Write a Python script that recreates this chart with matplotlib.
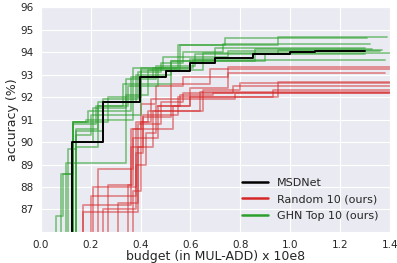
import matplotlib
matplotlib.use("Agg")
import matplotlib.pyplot as plt
import seaborn as sns

sns.set_style("darkgrid")
plt.rcParams['font.family'] = ['DejaVu Sans']

# MSDNet step curve (budget, accuracy)
msd_x = [0.124, 0.124, 0.249, 0.397, 0.50, 0.60, 0.70, 0.85, 1.00, 1.10, 1.30]
msd_y = [80.0, 90.0, 91.8, 92.88, 93.17, 93.5, 93.75, 93.9, 94.0, 94.05, 94.05]

# GHN Top 10 curves
ghn_x = [
    [0.06, 0.06, 0.09, 0.13, 0.22, 0.33, 0.52, 0.56, 0.95, 1.39],
    [0.13, 0.13, 0.19, 0.36, 0.45, 0.55, 0.74, 1.31],
    [0.14, 0.14, 0.25, 0.39, 0.48, 0.57, 0.73, 1.32],
    [0.11, 0.11, 0.14, 0.23, 0.38, 0.52, 0.86, 1.33],
    [0.13, 0.13, 0.21, 0.34, 0.46, 0.62, 0.95, 1.37],
    [0.14, 0.14, 0.20, 0.40, 0.65, 1.40],
    [0.10, 0.10, 0.34, 0.43, 0.56, 0.90, 1.30],
    [0.08, 0.08, 0.13, 0.27, 0.40, 0.60, 0.70, 1.30],
    [0.14, 0.14, 0.23, 0.35, 0.47, 0.61, 1.38],
    [0.13, 0.13, 0.18, 0.37, 0.49, 0.75, 1.36],
]
ghn_y = [
    [80, 86.7, 88.6, 90.8, 91.6, 92.6, 93.6, 94.3, 94.68, 94.68],
    [80, 90.9, 91.4, 92.9, 93.3, 94.3, 94.64, 94.64],
    [80, 90.5, 91.9, 93.1, 93.5, 94.0, 94.38, 94.38],
    [80, 89.7, 90.6, 91.8, 93.0, 93.6, 94.15, 94.15],
    [80, 90.0, 91.5, 92.8, 93.4, 93.9, 94.09, 94.09],
    [80, 90.3, 91.2, 93.2, 93.94, 93.94],
    [80, 89.07, 92.1, 93.2, 93.6, 93.9, 93.9],
    [80, 88.6, 90.9, 92.0, 93.3, 93.7, 94.2, 94.2],
    [80, 89.8, 91.6, 92.5, 93.3, 93.64, 93.64],
    [80, 90.9, 91.0, 93.3, 93.8, 94.05, 94.05],
]

# Random 10 curves
rnd_x = [
    [0.17, 0.17, 0.36, 0.40, 0.46, 0.57, 0.75, 1.40],
    [0.21, 0.21, 0.38, 0.44, 0.52, 0.68, 1.40],
    [0.23, 0.23, 0.37, 0.47, 0.60, 0.75, 1.38],
    [0.25, 0.25, 0.38, 0.41, 0.55, 0.95, 1.40],
    [0.27, 0.27, 0.36, 0.45, 0.65, 0.80, 1.40],
    [0.31, 0.31, 0.39, 0.48, 0.57, 0.77, 1.40],
    [0.35, 0.35, 0.37, 0.53, 0.60, 0.93, 1.40],
    [0.37, 0.37, 0.40, 0.43, 0.64, 1.40],
    [0.17, 0.17, 0.39, 0.41, 0.52, 0.78, 1.40],
    [0.20, 0.20, 0.38, 0.42, 0.46, 0.56, 0.69, 1.40],
]
rnd_y = [
    [80, 87.2, 90.6, 91.7, 92.5, 92.9, 93.35, 93.35],
    [80, 88.0, 90.9, 91.9, 92.6, 93.25, 93.25],
    [80, 88.8, 90.2, 91.6, 92.4, 93.08, 93.08],
    [80, 87.0, 89.5, 91.2, 92.0, 92.68, 92.68],
    [80, 88.1, 89.8, 91.4, 92.3, 92.62, 92.62],
    [80, 87.3, 90.8, 91.8, 92.2, 92.5, 92.5],
    [80, 88.1, 90.6, 91.6, 92.0, 92.32, 92.32],
    [80, 87.8, 90.9, 91.4, 92.24, 92.24],
    [80, 86.9, 89.8, 91.1, 91.9, 92.2, 92.2],
    [80, 87.6, 89.0, 90.4, 91.6, 92.1, 92.16, 92.16],
]

xticks = [0.0, 0.2, 0.4, 0.6, 0.8, 1.0, 1.2, 1.4]
yticks = [87, 88, 89, 90, 91, 92, 93, 94, 95, 96]

fig = plt.figure(figsize=(3.97, 2.63), dpi=100)
ax = fig.add_axes([0.103, 0.118, 0.879, 0.855])

RED = '#d62728'
GREEN = '#2ca02c'

for xs, ys in zip(rnd_x, rnd_y):
    ax.plot(xs, ys, drawstyle='steps-post', color=RED, alpha=0.5, lw=1.3)
for xs, ys in zip(ghn_x, ghn_y):
    ax.plot(xs, ys, drawstyle='steps-post', color=GREEN, alpha=0.55, lw=1.3)
ax.plot(msd_x, msd_y, drawstyle='steps-post', color='black', lw=1.4)

ax.plot([], [], color='black', lw=1.8, label='MSDNet')
ax.plot([], [], color=RED, lw=1.8, label='Random 10 (ours)')
ax.plot([], [], color=GREEN, lw=1.8, label='GHN Top 10 (ours)')

ax.set_xlim(0, 1.4)
ax.set_ylim(86, 96)
ax.set_xticks(xticks)
ax.set_yticks(yticks)
ax.tick_params(labelsize=7.5, pad=2)
ax.set_xlabel('budget (in MUL-ADD) x 10e8', fontsize=9, labelpad=0)
ax.set_ylabel('accuracy (%)', fontsize=9, labelpad=1)
ax.legend(loc='lower right', fontsize=8, frameon=False, handlelength=2.4,
          borderaxespad=0.6, labelspacing=0.6)

fig.savefig('out.png', dpi=100)
